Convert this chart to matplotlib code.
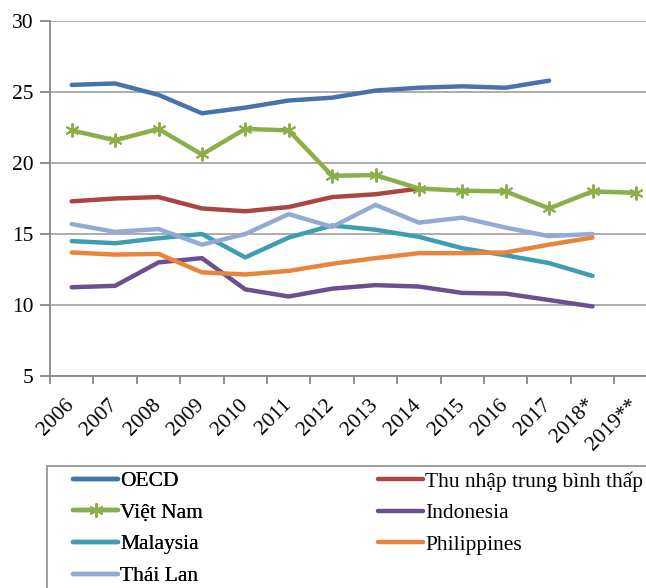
import numpy as np
import matplotlib
matplotlib.use("Agg")
import matplotlib.pyplot as plt
import matplotlib.transforms as mtransforms
from matplotlib.patches import Rectangle

plt.rcParams['font.family'] = ['Liberation Serif', 'DejaVu Serif']

nan = np.nan
years = ['2006', '2007', '2008', '2009', '2010', '2011', '2012', '2013',
         '2014', '2015', '2016', '2017', '2018*', '2019**']

oecd = [25.5, 25.6, 24.8, 23.5, 23.9, 24.4, 24.6, 25.1, 25.3, 25.4, 25.3, 25.8, nan, nan]
thu_nhap = [17.3, 17.5, 17.6, 16.8, 16.6, 16.9, 17.6, 17.8, 18.2, nan, nan, nan, nan, nan]
viet_nam = [22.3, 21.6, 22.4, 20.6, 22.4, 22.3, 19.1, 19.15, 18.2, 18.05, 18.0, 16.8, 18.0, 17.9]
indonesia = [11.25, 11.35, 13.0, 13.3, 11.1, 10.6, 11.15, 11.4, 11.3, 10.85, 10.8, 10.35, 9.9, nan]
malaysia = [14.5, 14.35, 14.7, 15.0, 13.35, 14.75, 15.6, 15.3, 14.8, 14.0, 13.5, 12.95, 12.05, nan]
philippines = [13.7, 13.55, 13.6, 12.3, 12.15, 12.4, 12.9, 13.3, 13.65, 13.65, 13.7, 14.25, 14.75, nan]
thai_lan = [15.7, 15.15, 15.35, 14.25, 15.0, 16.4, 15.5, 17.05, 15.8, 16.15, 15.45, 14.85, 15.0, nan]

W, H = 646, 588
fs = 15.5
fig = plt.figure(figsize=(W / 100, H / 100), dpi=100)
ax = fig.add_axes([50 / W, 1 - 376 / H, 607.6 / W, 355 / H])

x = np.arange(len(years))
lw = 3.2
lines = []
lines += ax.plot(x, oecd, color='#4674aa', lw=lw, label='OECD', solid_capstyle='round')
lines += ax.plot(x, thu_nhap, color='#ab4543', lw=lw, label='Thu nhập trung bình thấp', solid_capstyle='round')
lines += ax.plot(x, viet_nam, color='#8bae49', lw=lw, label='Việt Nam', marker=(6, 2, 0),
                 markersize=10, markeredgewidth=1.4, solid_capstyle='round')
lines += ax.plot(x, indonesia, color='#6b4f8f', lw=lw, label='Indonesia', solid_capstyle='round')
lines += ax.plot(x, malaysia, color='#3c9db3', lw=lw, label='Malaysia', solid_capstyle='round')
lines += ax.plot(x, philippines, color='#e8843b', lw=lw, label='Philippines', solid_capstyle='round')
lines += ax.plot(x, thai_lan, color='#93aad3', lw=lw, label='Thái Lan', solid_capstyle='round')

ax.set_xlim(-0.5, len(years) - 0.5)
ax.set_ylim(5, 30)
ax.set_yticks([5, 10, 15, 20, 25, 30])
ax.yaxis.grid(True, color='#a6a6a6', lw=1.3)
ax.set_axisbelow(True)

ax.set_xticks(x)
ax.set_xticklabels(years, rotation=45, ha='right', fontsize=fs)
ax.set_xticks(np.arange(-0.5, len(years)), minor=True)
ax.tick_params(axis='x', which='major', length=0, pad=14)
ax.tick_params(axis='x', which='minor', length=6, width=1.3, color='#888888')
ax.tick_params(axis='y', length=7, width=1.3, color='#888888', labelsize=fs, pad=5)
offset = mtransforms.ScaledTranslation(4.5 / 72, 0, fig.dpi_scale_trans)
for lab in ax.get_xticklabels():
    lab.set_transform(lab.get_transform() + offset)

for s in ['top', 'right']:
    ax.spines[s].set_visible(False)
for s in ['left', 'bottom']:
    ax.spines[s].set_color('#888888')
    ax.spines[s].set_linewidth(1.3)

# legend frame extending past the figure edge
fig.patches.append(Rectangle((47 / W, -0.2), 1.0, (1 - 466 / H) + 0.2,
                             transform=fig.transFigure, fill=False,
                             edgecolor='#999999', lw=1.3))

kw = dict(loc='upper left', frameon=False, fontsize=fs, handlelength=2.1,
          handletextpad=0.1, labelspacing=0.54, borderpad=0, borderaxespad=0)
leg1 = fig.legend([lines[i] for i in (0, 2, 4, 6)], [lines[i].get_label() for i in (0, 2, 4, 6)],
                  bbox_to_anchor=(73 / W, 1 - 471 / H), **kw)
leg2 = fig.legend([lines[i] for i in (1, 3, 5)], [lines[i].get_label() for i in (1, 3, 5)],
                  bbox_to_anchor=(378 / W, 1 - 471 / H), **kw)
fig.add_artist(leg1)

fig.savefig('out.png', dpi=100)
